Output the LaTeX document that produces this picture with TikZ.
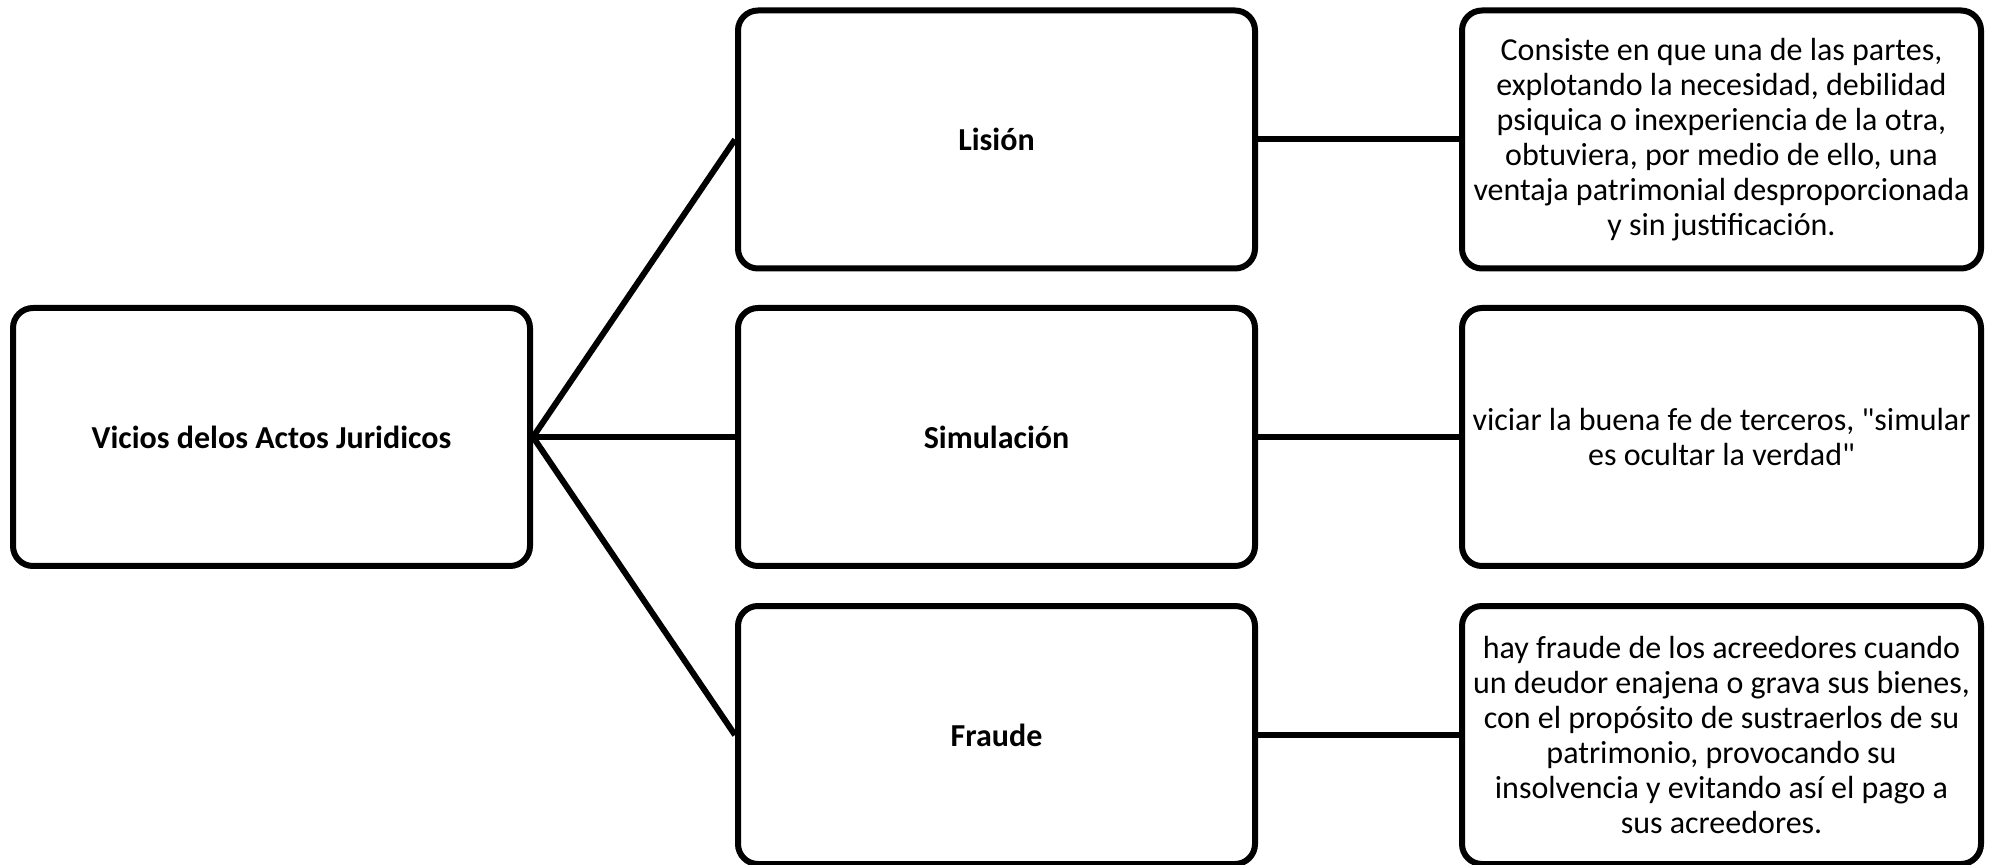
\documentclass[tikz,border=0pt]{standalone}
\usepackage{fontspec}
\setmainfont{Carlito}[Ligatures=TeXOff]
\begin{document}
\begin{tikzpicture}[x=0.5pt,y=-0.5pt,
  box/.style={draw=black, line width=3pt, rounded corners=10pt, fill=white,
    minimum width=258.5pt, minimum height=129pt, inner sep=0pt, align=center,
    font=\fontsize{16pt}{17.5pt}\selectfont},
  boldbox/.style={box, font=\bfseries\fontsize{16pt}{17.5pt}\selectfont},
  descbox/.style={box, minimum width=259.5pt},
  conn/.style={draw=black, line width=3pt}]
\useasboundingbox (0,0) rectangle (1991,865);
\node[boldbox] (root) at (271.5,437) {Vicios delos Actos Juridicos};
\node[boldbox] (lis) at (996.5,139.5) {Lisión};
\node[boldbox] (sim) at (996.5,437) {Simulación};
\node[boldbox] (fra) at (996.5,735) {Fraude};
\node[descbox] (dlis) at (1721.5,139.5) {Consiste en que una de las partes,\\ explotando la necesidad, debilidad\\ psiquica o inexperiencia de la otra,\\ obtuviera, por medio de ello, una\\ ventaja patrimonial desproporcionada\\ y sin justificación.};
\node[descbox] (dsim) at (1721.5,437) {viciar la buena fe de terceros, "simular\\ es ocultar la verdad"};
\node[descbox] (dfra) at (1721.5,735) {hay fraude de los acreedores cuando\\ un deudor enajena o grava sus bienes,\\ con el propósito de sustraerlos de su\\ patrimonio, provocando su\\ insolvencia y evitando así el pago a\\ sus acreedores.};
\draw[conn] (root.east) -- (lis.west);
\draw[conn] (root.east) -- (sim.west);
\draw[conn] (root.east) -- (fra.west);
\draw[conn] (lis.east) -- (dlis.west);
\draw[conn] (sim.east) -- (dsim.west);
\draw[conn] (fra.east) -- (dfra.west);
\end{tikzpicture}
\end{document}
